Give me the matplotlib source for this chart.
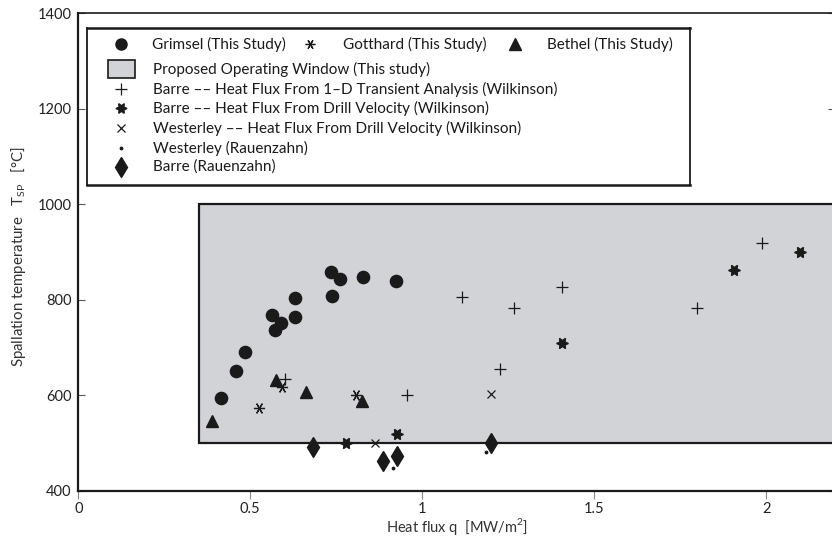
import matplotlib
matplotlib.use("Agg")
import matplotlib.pyplot as plt
from matplotlib.patches import Rectangle

plt.rcParams['font.family'] = ['Lato', 'DejaVu Sans']
plt.rcParams['mathtext.fontset'] = 'custom'
plt.rcParams['mathtext.rm'] = 'Lato'

# ---------------- data ----------------
grimsel_q = [0.416, 0.458, 0.486, 0.572, 0.562, 0.588, 0.630, 0.629, 0.737, 0.734, 0.761, 0.828, 0.924]
grimsel_T = [595, 651, 690, 737, 768, 752, 764, 803, 808, 859, 844, 847, 840]

gotthard_q = [0.525, 0.591, 0.806]
gotthard_T = [573, 617, 600]

bethel_q = [0.388, 0.576, 0.661, 0.826]
bethel_T = [546, 632, 608, 588]

barre_trans_q = [0.601, 0.955, 1.226, 1.117, 1.267, 1.405, 1.798, 1.988]
barre_trans_T = [634, 600, 655, 806, 783, 828, 783, 919]

barre_drill_q = [0.777, 0.927, 1.405, 1.907, 2.098]
barre_drill_T = [501, 519, 709, 863, 901]

wester_drill_q = [0.863, 1.200]
wester_drill_T = [500, 603]

wester_rau_q = [0.914, 1.185]
wester_rau_T = [448, 481]

barre_rau_q = [0.683, 0.887, 0.927, 1.200]
barre_rau_T = [493, 463, 473, 501]

window_q = [0.35, 2.5]
window_T = [500, 1000]

xticks = [0, 0.5, 1, 1.5, 2]
xticklabels = ['0', '0.5', '1', '1.5', '2']
yticks = [400, 600, 800, 1000, 1200, 1400]

legend_labels = [
    'Grimsel (This Study)', 'Gotthard (This Study)', 'Bethel (This Study)',
    'Proposed Operating Window (This study)',
    'Barre \u2013\u2013 Heat Flux From 1\u2013D Transient Analysis (Wilkinson)',
    'Barre \u2013\u2013 Heat Flux From Drill Velocity (Wilkinson)',
    'Westerley \u2013\u2013 Heat Flux From Drill Velocity (Wilkinson)',
    'Westerley (Rauenzahn)',
    'Barre (Rauenzahn)',
]

# ---------------- figure ----------------
W, H = 832, 545
fig = plt.figure(figsize=(W / 100, H / 100), dpi=100)
L, R, T, B = 78.3, 835.0, 13.3, 491.0
ax = fig.add_axes([L / W, 1 - B / H, (R - L) / W, (B - T) / H])

gray = '#d1d3d6'
ax.add_patch(Rectangle((window_q[0], window_T[0]), window_q[1] - window_q[0],
                       window_T[1] - window_T[0], facecolor=gray,
                       edgecolor='#1a1a1a', linewidth=1.6, zorder=2))

blk = '#1a1a1a'
star6 = (6, 1, 90)
aster = (6, 2, 90)
ax.plot(grimsel_q, grimsel_T, 'o', color=blk, ms=8.8, zorder=5, clip_on=False)
ax.plot(gotthard_q, gotthard_T, ls='none', marker=aster, color=blk, ms=8, mew=0.9, zorder=5)
ax.plot(bethel_q, bethel_T, '^', color=blk, ms=8.8, zorder=5)
ax.plot(barre_trans_q, barre_trans_T, '+', color=blk, ms=9, mew=0.9, zorder=5)
ax.plot(barre_drill_q, barre_drill_T, ls='none', marker=star6, color=blk, ms=8.5, zorder=5)
ax.plot(wester_drill_q, wester_drill_T, 'x', color=blk, ms=6, mew=0.9, zorder=5)
ax.plot(wester_rau_q, wester_rau_T, '.', color=blk, ms=3.5, zorder=5, clip_on=False)
ax.plot(barre_rau_q, barre_rau_T, 'd', color=blk, ms=10, zorder=5)

ax.set_xlim(0, 2.2)
ax.set_ylim(400, 1400)
ax.set_xticks(xticks)
ax.set_xticklabels(xticklabels)
ax.set_yticks(yticks)
ax.tick_params(axis='y', direction='in', length=5, width=0.8, left=True, right=True,
               labelsize=10.5, labelcolor='#222222', color='#555555', pad=5)
ax.tick_params(axis='x', direction='out', length=6, width=0.8, labelsize=10.5,
               labelcolor='#222222', color='#888888', pad=2)
for s in ax.spines.values():
    s.set_linewidth(1.6)
    s.set_color(blk)
ax.spines['top'].set_linewidth(1.2)

ax.set_xlabel('Heat flux q  [MW/m$^2$]', fontsize=10.5, color='#333333', labelpad=0)
ax.set_ylabel('Spallation temperature   T$_{\\rm SP}$   [\u00b0C]', fontsize=10.8,
              color='#333333', labelpad=8)
ax.yaxis.set_label_coords(-0.066, 0.49)

# ---------------- legend (custom layout) ----------------
lx0, ly0, lx1, ly1 = 87.0, 27.7, 690.0, 185.0
lax = fig.add_axes([lx0 / W, 1 - ly1 / H, (lx1 - lx0) / W, (ly1 - ly0) / H])
lax.set_xlim(0, lx1 - lx0)
lax.set_ylim(ly1 - ly0, 0)
lax.set_xticks([])
lax.set_yticks([])
for s in lax.spines.values():
    s.set_linewidth(1.3)
    s.set_color(blk)
lax.spines['top'].set_linewidth(1.8)
lax.spines['bottom'].set_linewidth(1.8)

fs = 11
r1 = 16.3
lax.plot([33.6], [r1], 'o', color=blk, ms=8)
lax.text(65.4, r1, legend_labels[0], va='center', fontsize=fs, color=blk)
lax.plot([223], [r1], ls='none', marker=aster, color=blk, ms=7, mew=0.9)
lax.text(255.6, r1, legend_labels[1], va='center', fontsize=fs, color=blk)
lax.plot([427.8], [r1], '^', color=blk, ms=8)
lax.text(460, r1, legend_labels[2], va='center', fontsize=fs, color=blk)

rows = [41.3, 61.3, 80.3, 100.3, 120.3, 139.3]
lax.add_patch(Rectangle((21, rows[0] - 9), 27, 18, facecolor=gray, edgecolor=blk, linewidth=1.2))
lax.text(66, rows[0], legend_labels[3], va='center', fontsize=fs, color=blk)
lax.plot([34], [rows[1]], '+', color=blk, ms=9, mew=0.9)
lax.plot([34], [rows[2]], ls='none', marker=star6, color=blk, ms=8)
lax.plot([34], [rows[3]], 'x', color=blk, ms=6, mew=0.9)
lax.plot([34], [rows[4]], '.', color=blk, ms=3.5)
lax.plot([34], [rows[5]], 'd', color=blk, ms=10)
for r, lab in zip(rows[1:], legend_labels[4:]):
    lax.text(66, r, lab, va='center', fontsize=fs, color=blk)

fig.savefig('out.png', dpi=100)
